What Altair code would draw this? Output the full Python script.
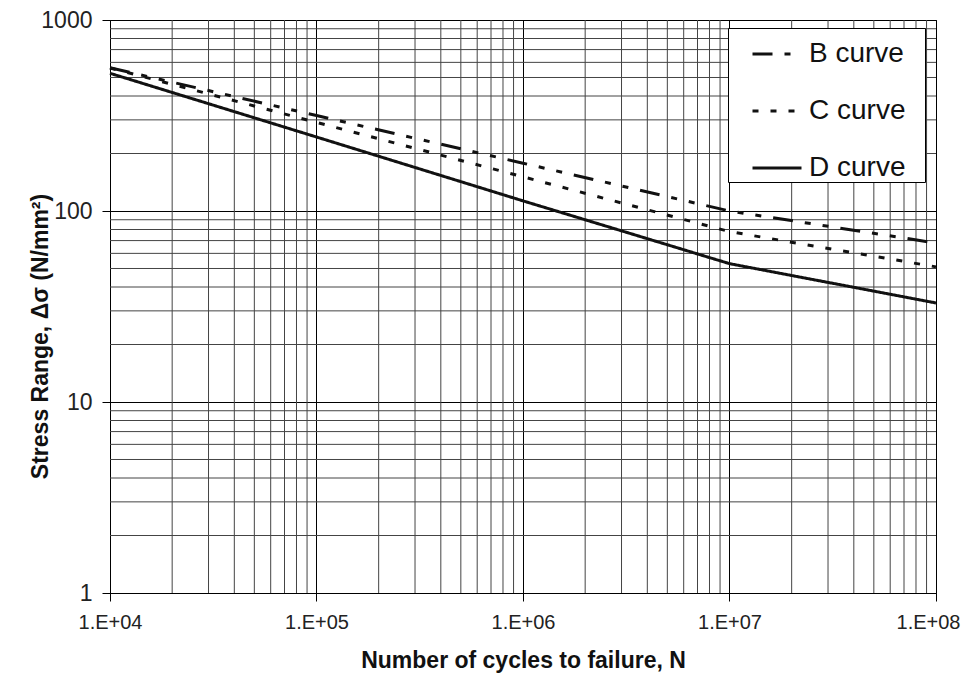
import altair as alt
import pandas as pd

# Data
cycles = [1e4, 1e5, 1e6, 1e7, 1e8]
b_curve = [562, 316, 178, 100, 68]
c_curve = [561, 291, 151, 78, 51]
d_curve = [526, 244, 113, 53, 33]
series_names = ["B curve", "C curve", "D curve"]

x_major = [1e4, 1e5, 1e6, 1e7, 1e8]
y_major = [1, 10, 100, 1000]
x_minor = [k * 10 ** e for e in range(4, 8) for k in range(2, 10)]
y_minor = [k * 10 ** e for e in range(0, 3) for k in range(2, 10)]

rows = []
for name, vals in zip(series_names, [b_curve, c_curve, d_curve]):
    for n, s in zip(cycles, vals):
        rows.append({"series": name, "N": n, "S": s})
df = pd.DataFrame(rows)

FONT = "Liberation Sans"

xscale = alt.Scale(type="log", domain=[1e4, 1e8], nice=False)
yscale = alt.Scale(type="log", domain=[1, 1000], nice=False)

xaxis = alt.Axis(
    values=x_major,
    labelExpr="'1.E+0' + round(log(datum.value)/LN10)",
    title="Number of cycles to failure, N",
    titleY=74,
    titleBaseline="alphabetic",
    labelPadding=11,
    labelFontSize=20,
    labelFlush=False,
    labelOffset={"condition": {"test": "datum.value >= 1e8", "value": -8}, "value": 0},
)
yaxis = alt.Axis(
    values=y_major,
    format="d",
    title="Stress Range, \u0394\u03c3 (N/mm\u00b2)",
    titleX=-63,
    titleY=316,
    titleBaseline="alphabetic",
    labelPadding=10,
    labelFontSize=23,
    labelFlush=False,
)

xgrid = alt.Chart(pd.DataFrame({"v": x_minor})).mark_rule(
    color="#444", strokeWidth=1
).encode(x=alt.X("v:Q", scale=xscale, axis=xaxis))

ygrid = alt.Chart(pd.DataFrame({"v": y_minor})).mark_rule(
    color="#444", strokeWidth=1
).encode(y=alt.Y("v:Q", scale=yscale, axis=yaxis))

legend = alt.Legend(
    title=" ",
    titleOrient="right",
    titlePadding=20,
    titleFontSize=10,
)

lines = alt.Chart(df).mark_line(color="#111").encode(
    x=alt.X("N:Q", scale=xscale, axis=xaxis),
    y=alt.Y("S:Q", scale=yscale, axis=yaxis),
    strokeDash=alt.StrokeDash(
        "series:N",
        scale=alt.Scale(
            domain=series_names,
            range=[[20, 12, 6, 12, 6, 12], [6, 12], [1, 0]],
        ),
        legend=legend,
    ),
    strokeWidth=alt.StrokeWidth(
        "series:N",
        scale=alt.Scale(domain=series_names, range=[3, 3, 1.5]),
        legend=legend,
    ),
    detail="series:N",
)

chart = (
    alt.layer(xgrid, ygrid, lines)
    .properties(
        width=826,
        height=573,
        autosize="none",
        padding={"left": 102, "top": 12, "right": 25, "bottom": 86},
        title=alt.TitleParams(
            "Figure 3 : Basic design S-N curves, in air environment",
            fontSize=13,
            font=FONT,
            fontWeight="bold",
            anchor="middle",
            offset=9,
            color="#111",
        ),
    )
    .configure_view(stroke="#000", strokeWidth=1)
    .configure_axis(
        domainColor="#000",
        tickColor="#000",
        tickSize=8,
        grid=True,
        gridColor="#000",
        gridWidth=1,
        labelFont=FONT,
        labelColor="#222",
        titleFont=FONT,
        titleFontSize=23,
        titleFontWeight="bold",
        titleColor="#111",
    )
    .configure_legend(
        orient="none",
        legendX=618,
        legendY=8,
        fillColor="white",
        strokeColor="#000",
        padding=0,
        symbolType="stroke",
        symbolSize=2401,
        symbolStrokeColor="#111",
        symbolOffset=23,
        labelOffset=6,
        labelFont=FONT,
        labelFontSize=28,
        labelColor="#111",
        rowPadding=17,
    )
)

chart.save("out.html", embed_options={"renderer": "svg", "actions": False})
